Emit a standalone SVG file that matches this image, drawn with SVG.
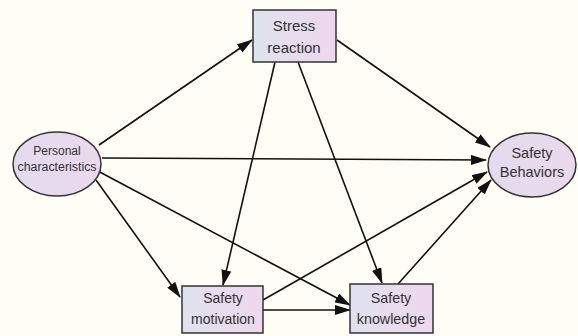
<svg xmlns="http://www.w3.org/2000/svg" width="578" height="336" viewBox="0 0 578 336">
<defs>
<linearGradient id="boxg" x1="0" y1="0" x2="1" y2="0">
<stop offset="0" stop-color="#dfe2ee"/>
<stop offset="1" stop-color="#efd7ee"/>
</linearGradient>
<linearGradient id="ellg" x1="0" y1="0" x2="1" y2="0">
<stop offset="0" stop-color="#e2dcee"/>
<stop offset="1" stop-color="#ecd8ec"/>
</linearGradient>
<marker id="ah" markerUnits="userSpaceOnUse" markerWidth="16" markerHeight="10" refX="15" refY="5" orient="auto">
<path d="M0,0 L16,5 L0,10 Z" fill="#111"/>
</marker>
<style>
.box{fill:url(#boxg);stroke:#333;stroke-width:1.5}
.ell{fill:url(#ellg);stroke:#333;stroke-width:1.5}
.t{font-family:"Liberation Sans",Arial,sans-serif;fill:#333;text-anchor:middle}
.c line{stroke:#111;stroke-width:1.6;marker-end:url(#ah)}
</style>
</defs>
<rect width="578" height="336" fill="#fefef6"/>
<g class="c" id="connectors">
<line x1="99" y1="145" x2="252" y2="40"/>
<line x1="102" y1="158" x2="486" y2="160"/>
<line x1="96" y1="170" x2="350" y2="305"/>
<line x1="96" y1="180" x2="180" y2="297"/>
<line x1="337" y1="40" x2="490" y2="147"/>
<line x1="275" y1="62" x2="223" y2="285"/>
<line x1="298" y1="62" x2="382" y2="283"/>
<line x1="263" y1="300" x2="487" y2="172"/>
<line x1="263" y1="310" x2="350" y2="310"/>
<line x1="398" y1="284" x2="491" y2="180"/>
</g>
<g id="stress">
<rect class="box" x="253" y="10" width="83" height="52"/>
<text class="t" x="294" y="31" font-size="15">Stress</text>
<text class="t" x="294" y="53" font-size="15">reaction</text>
</g>
<g id="personal">
<ellipse class="ell" cx="57" cy="164" rx="44" ry="32"/>
<text class="t" x="57" y="155" font-size="12">Personal</text>
<text class="t" x="57" y="171" font-size="12" textLength="79" lengthAdjust="spacingAndGlyphs">characteristics</text>
</g>
<g id="behaviors">
<ellipse class="ell" cx="532" cy="165" rx="44" ry="32"/>
<text class="t" x="532" y="158" font-size="14.5">Safety</text>
<text class="t" x="532" y="177" font-size="14.5">Behaviors</text>
</g>
<g id="motivation">
<rect class="box" x="182" y="286" width="81" height="47"/>
<text class="t" x="223" y="303" font-size="14">Safety</text>
<text class="t" x="223" y="324" font-size="14">motivation</text>
</g>
<g id="knowledge">
<rect class="box" x="350" y="284" width="83" height="49"/>
<text class="t" x="391" y="303" font-size="14.3">Safety</text>
<text class="t" x="391" y="324" font-size="14.3">knowledge</text>
</g>
</svg>
